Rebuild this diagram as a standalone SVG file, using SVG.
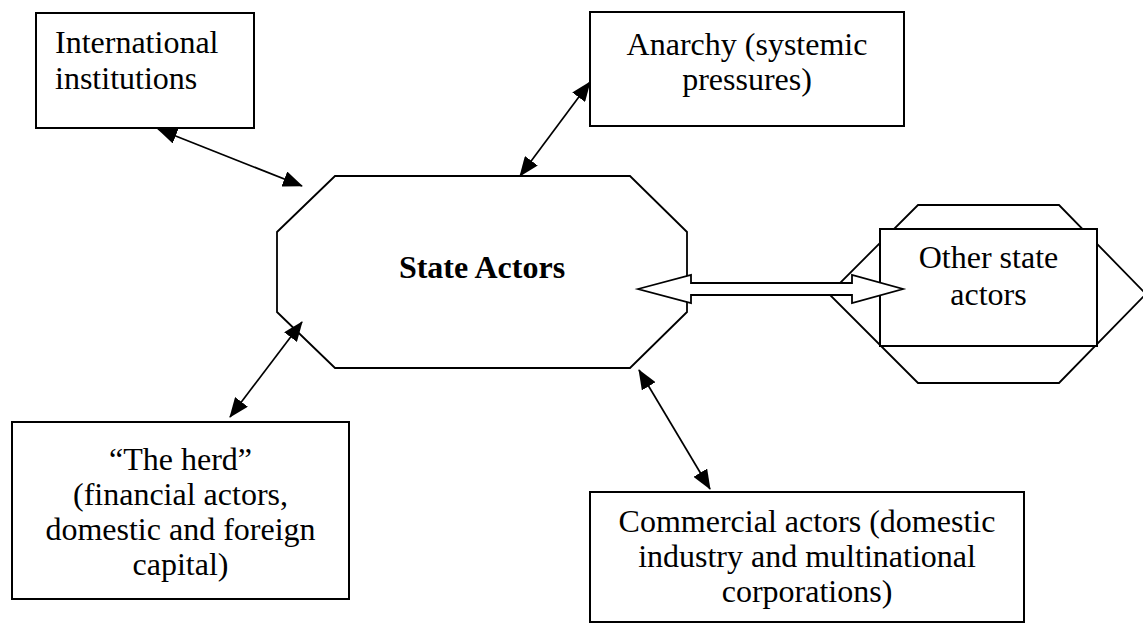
<svg xmlns="http://www.w3.org/2000/svg" width="1143" height="623" viewBox="0 0 1143 623">
  <style>
    .box { fill: #ffffff; stroke: #000000; stroke-width: 2; }
    .shape { fill: #ffffff; stroke: #000000; stroke-width: 1.8; stroke-linejoin: miter; }
    .label { font-family: "Liberation Serif", "Times New Roman", serif; font-size: 32px; fill: #000000; }
    .mid { text-anchor: middle; }
    .bold { font-weight: bold; }
    .link { fill: none; stroke: #000000; stroke-width: 1.7; marker-start: url(#head); marker-end: url(#head); }
    .block { fill: #ffffff; stroke: #000000; stroke-width: 1.8; stroke-linejoin: miter; }
  </style>
  <defs>
    <marker id="head" viewBox="0 0 20 16" refX="19" refY="8" markerWidth="20" markerHeight="16" markerUnits="userSpaceOnUse" orient="auto-start-reverse">
      <path d="M0,0 L20,8 L0,16 Z" fill="#000000"/>
    </marker>
  </defs>
  <rect width="1143" height="623" fill="#ffffff"/>

  <g id="international-institutions">
    <rect class="box" x="36" y="13" width="218" height="115"/>
    <text class="label" x="55" y="53">International</text>
    <text class="label" x="55" y="89">institutions</text>
  </g>

  <g id="anarchy">
    <rect class="box" x="590" y="12" width="314" height="114"/>
    <text class="label mid" x="747" y="55">Anarchy (systemic</text>
    <text class="label mid" x="747" y="90">pressures)</text>
  </g>

  <g id="state-actors">
    <polygon class="shape" points="335,176 630,176 687,232 687,312 630,368 335,368 277,312 277,232"/>
    <text class="label mid bold" x="482" y="278">State Actors</text>
  </g>

  <g id="other-state-actors">
    <polygon class="shape" points="918,205 1059,205 1146,294 1059,383 918,383 829,294"/>
    <rect class="box" x="880" y="229" width="217" height="117"/>
    <text class="label mid" x="988.5" y="268">Other state</text>
    <text class="label mid" x="988.5" y="305">actors</text>
  </g>

  <g id="the-herd">
    <rect class="box" x="12" y="422" width="337" height="177"/>
    <text class="label mid" x="180.5" y="470">“The herd”</text>
    <text class="label mid" x="180.5" y="505">(financial actors,</text>
    <text class="label mid" x="180.5" y="540">domestic and foreign</text>
    <text class="label mid" x="180.5" y="575">capital)</text>
  </g>

  <g id="commercial-actors">
    <rect class="box" x="590" y="492" width="434" height="130"/>
    <text class="label mid" x="807" y="532">Commercial actors (domestic</text>
    <text class="label mid" x="807" y="567">industry and multinational</text>
    <text class="label mid" x="807" y="602">corporations)</text>
  </g>

  <g id="connectors">
    <line class="link" x1="158" y1="129" x2="302" y2="186"/>
    <line class="link" x1="590" y1="82" x2="520" y2="176"/>
    <line class="link" x1="302" y1="322" x2="230" y2="417"/>
    <line class="link" x1="639" y1="370" x2="710" y2="489"/>
    <polygon class="block" points="638,289 691,275 691,283 852,283 852,275 903,289 852,303 852,295 691,295 691,303"/>
  </g>
</svg>
